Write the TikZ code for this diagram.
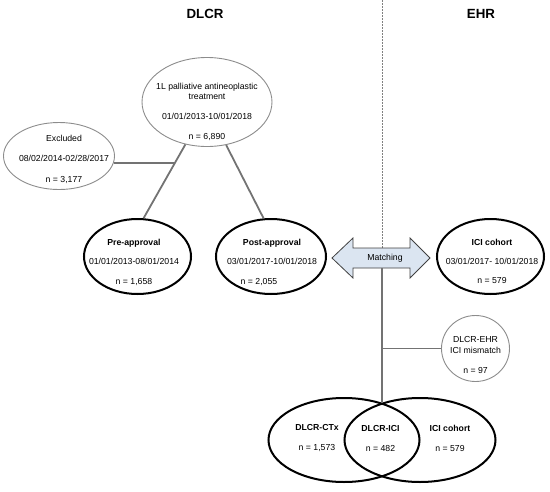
\documentclass[tikz,border=0pt]{standalone}
\usepackage{fontspec}
\setmainfont{Liberation Sans}
\usetikzlibrary{shapes.geometric,calc}
\definecolor{lgray}{HTML}{737373}
\definecolor{ogray}{HTML}{8C8C8C}
\definecolor{arrfill}{HTML}{DBE5F1}
\definecolor{arrline}{HTML}{404040}
\begin{document}
\begin{tikzpicture}[x=1pt,y=-1pt,
  txt/.style={font=\fontsize{8.7}{10}\selectfont, align=center, inner sep=0pt},
  btxt/.style={font=\fontsize{8.7}{10}\selectfont\bfseries, align=center, inner sep=0pt},
  mtxt/.style={font=\fontsize{8.7}{11}\selectfont, align=center, inner sep=0pt},
  ttl/.style={font=\fontsize{13.3}{16}\selectfont\bfseries, inner sep=0pt},
  grayell/.style={ellipse, draw=ogray, line width=0.9pt, inner sep=0pt},
  blackell/.style={ellipse, draw=black, line width=2pt, inner sep=0pt},
  conn/.style={draw=lgray, line width=1.8pt},
  sepline/.style={draw=gray, line width=0.9pt, dash pattern=on 1.5pt off 1.5pt},
  bigarrow/.style={draw=arrline, fill=arrfill, line width=0.8pt, line join=miter}]
\useasboundingbox (0,0) rectangle (550,491);

% titles
\node[ttl] (dlcr) at (205,14) {DLCR};
\node[ttl] (ehr) at (481,14) {EHR};

% divider
\coordinate (divtop) at (382,0);
\coordinate (divbot) at (382,248);
\draw[sepline] (divtop) -- (divbot);

% ellipses
\node[grayell, minimum width=130pt, minimum height=89pt] (top) at (207,102) {};
\node[grayell, minimum width=111pt, minimum height=67pt] (excl) at (59,156) {};
\node[blackell, minimum width=107pt, minimum height=75pt] (pre) at (137.5,256.5) {};
\node[blackell, minimum width=110pt, minimum height=75pt] (post) at (271,256.5) {};
\node[blackell, minimum width=107pt, minimum height=75pt] (ici) at (490.5,256.5) {};
\node[grayell, minimum width=68pt, minimum height=66pt] (mis) at (475.5,348.5) {};
\node[blackell, minimum width=151pt, minimum height=84pt] (ctx) at (344,440) {};
\node[blackell, minimum width=151pt, minimum height=84pt] (icib) at (420,440) {};

% connectors
\draw[conn] (top.243) -- (pre.81);
\draw[conn] (top.294.6) -- (post.101);
\coordinate (j1) at ($(top.243)!0.25!(pre.81)$);
\draw[conn] (excl.-7) -- (excl.-7 -| j1);

% matching arrow
\coordinate (arrC) at (381,258);
\draw[bigarrow, shift={(arrC)}] (-49,0) -- (-28,-20) -- (-28,-10) -- (29,-10) -- (29,-20)
  -- (49,0) -- (29,20) -- (29,10) -- (-28,10) -- (-28,20) -- cycle;
\node[txt] (match) at (385,258.5) {Matching};

\coordinate (arrB) at (382,268);
\coordinate (meet) at (382,403);
\draw[conn] (arrB) -- (meet);
\draw[conn] (mis.west) -- (mis.west -| meet);

% texts
\node[txt] (topT) at (207,111.5) {1L palliative antineoplastic\\treatment\\[10pt]01/01/2013-10/01/2018\\[10pt]n = 6,890};
\node[txt] (exclT) at (64,159.5) {Excluded\\[10pt]08/02/2014-02/28/2017\\[10.5pt]n = 3,177};
\node[txt] (preT) at (134,262) {\textbf{Pre-approval}\\[9.5pt]01/01/2013-08/01/2014\\[9.5pt]n = 1,658};
\node[txt] (postT) at (272,251.5) {\textbf{Post-approval}\\[9pt]03/01/2017-10/01/2018};
\node[txt] (postN) at (259,282.5) {n = 2,055};
\node[txt] (iciT) at (492,261) {\textbf{ICI cohort}\\[9pt]03/01/2017- 10/01/2018\\[9pt]n = 579};
\node[mtxt] (misT) at (475.5,354.5) {DLCR-EHR\\ICI mismatch\\[9pt]n = 97};
\node[txt] (ctxT) at (317,438.5) {\textbf{DLCR-CTx}\\[10pt]n = 1,573};
\node[txt] (dliT) at (380.5,438) {\textbf{DLCR-ICI}\\[10pt]n = 482};
\node[txt] (icibT) at (450,438) {\textbf{ICI cohort}\\[10pt]n = 579};
\end{tikzpicture}
\end{document}
